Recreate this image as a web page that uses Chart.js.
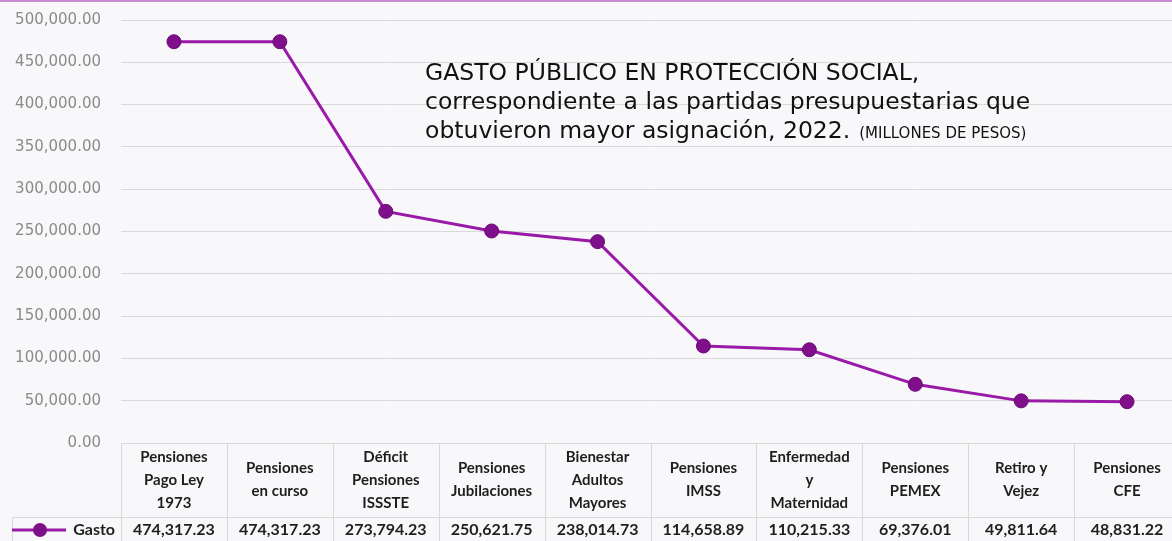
<!DOCTYPE html>
<html>
<head>
<meta charset="utf-8">
<script src="https://cdn.jsdelivr.net/npm/chart.js@4/dist/chart.umd.min.js"></script>
<style>
  html, body { margin: 0; padding: 0; background: #f8f8fa; overflow: hidden; }
  #wrap { position: relative; width: 1180px; height: 541px; }
</style>
</head>
<body>
<div id="wrap"><canvas id="chart"></canvas></div>
<script>
const categories = [
  ['Pensiones', 'Pago Ley', '1973'],
  ['Pensiones', 'en curso'],
  ['Déficit', 'Pensiones', 'ISSSTE'],
  ['Pensiones', 'Jubilaciones'],
  ['Bienestar', 'Adultos', 'Mayores'],
  ['Pensiones', 'IMSS'],
  ['Enfermedad', 'y', 'Maternidad'],
  ['Pensiones', 'PEMEX'],
  ['Retiro y', 'Vejez'],
  ['Pensiones', 'CFE']
];
const gasto = [474317.23, 474317.23, 273794.23, 250621.75, 238014.73, 114658.89, 110215.33, 69376.01, 49811.64, 48831.22];
const seriesName = 'Gasto';
const titleLines = [
  'GASTO PÚBLICO EN PROTECCIÓN SOCIAL,',
  'correspondiente a las partidas presupuestarias que',
  'obtuvieron mayor asignación, 2022.'
];
const titleNote = '(MILLONES DE PESOS)';

const purple = '#9a1aa8';
const fmt = v => v.toLocaleString('en-US', { minimumFractionDigits: 2, maximumFractionDigits: 2 });

// data table + title drawn after the chart
const tablePlugin = {
  id: 'dataTable',
  afterDraw(chart) {
    const ctx = chart.ctx;
    const x = chart.scales.x;
    const area = chart.chartArea;
    const n = categories.length;
    const colW = (area.right - area.left) / n;
    const headTop = area.bottom;
    const headBot = headTop + 74;
    const rowBot = headBot + 30;

    ctx.save();
    // top border
    ctx.fillStyle = '#c98ad3';
    ctx.fillRect(0, 0, chart.width, 2);

    // grid
    ctx.strokeStyle = '#d9d9d9';
    ctx.lineWidth = 1;
    ctx.beginPath();
    ctx.moveTo(area.left, headTop + 0.5);
    ctx.lineTo(area.right, headTop + 0.5);
    ctx.moveTo(12, headBot + 0.5);
    ctx.lineTo(area.right, headBot + 0.5);
    for (let k = 0; k <= n; k++) {
      const xx = Math.round(area.left + k * colW) + 0.5;
      ctx.moveTo(xx, headTop);
      ctx.lineTo(xx, rowBot);
    }
    ctx.moveTo(12.5, headBot);
    ctx.lineTo(12.5, rowBot);
    ctx.stroke();

    // header labels
    ctx.fillStyle = '#1e1e1e';
    ctx.font = 'bold 15px Lato, "Open Sans", sans-serif';
    ctx.textAlign = 'center';
    ctx.textBaseline = 'middle';
    const lh = 23;
    categories.forEach((lines, i) => {
      const cx = x.getPixelForValue(i);
      const mid = (headTop + headBot) / 2;
      const start = mid - (lines.length - 1) * lh / 2;
      lines.forEach((t, j) => ctx.fillText(t, cx, start + j * lh));
    });

    // value row
    const vy = (headBot + 541) / 2 + 1;
    ctx.font = 'bold 16px Lato, "Open Sans", sans-serif';
    gasto.forEach((v, i) => {
      ctx.fillText(fmt(v), x.getPixelForValue(i), vy);
    });

    // legend key
    ctx.strokeStyle = purple;
    ctx.lineWidth = 3;
    ctx.beginPath();
    ctx.moveTo(12, vy);
    ctx.lineTo(66, vy);
    ctx.stroke();
    ctx.fillStyle = '#7d1189';
    ctx.beginPath();
    ctx.arc(40, vy, 7, 0, Math.PI * 2);
    ctx.fill();
    ctx.fillStyle = '#1e1e1e';
    ctx.textAlign = 'right';
    ctx.fillText(seriesName, area.left - 6, vy);

    // title
    ctx.textAlign = 'left';
    ctx.textBaseline = 'alphabetic';
    ctx.fillStyle = '#111111';
    ctx.font = '23.5px "DejaVu Sans", sans-serif';
    const tx = 425;
    const ty = [80, 109, 138];
    titleLines.forEach((t, j) => ctx.fillText(t, tx, ty[j]));
    const w = ctx.measureText(titleLines[2]).width;
    ctx.font = '15px "DejaVu Sans", sans-serif';
    ctx.fillText(titleNote, tx + w + 9, ty[2]);
    ctx.restore();
  }
};

new Chart(document.getElementById('chart'), {
  type: 'line',
  data: {
    labels: categories.map(c => c.join(' ')),
    datasets: [{
      label: seriesName,
      data: gasto,
      borderColor: purple,
      borderWidth: 3,
      pointRadius: 7,
      pointHoverRadius: 7,
      pointBackgroundColor: '#800f8c',
      pointBorderColor: '#6a0a75',
      pointBorderWidth: 1,
      tension: 0
    }]
  },
  options: {
    responsive: true,
    maintainAspectRatio: false,
    animation: false,
    layout: { autoPadding: false, padding: { top: 20, bottom: 98, right: 0, left: 0 } },
    plugins: {
      legend: { display: false },
      tooltip: { enabled: false }
    },
    scales: {
      x: {
        type: 'category',
        offset: true,
        display: false
      },
      y: {
        min: 0,
        max: 500000,
        ticks: {
          stepSize: 50000,
          color: '#8a8a8a',
          font: { family: '"DejaVu Sans", sans-serif', size: 15 },
          padding: 20,
          callback: v => fmt(v)
        },
        grid: { color: '#d9d9d9', drawTicks: false },
        border: { display: false },
        afterFit(scale) {
          scale.width = 121;
          scale.paddingTop = 0;
          scale.paddingBottom = 0;
        }
      }
    }
  },
  plugins: [tablePlugin]
});
</script>
</body>
</html>
